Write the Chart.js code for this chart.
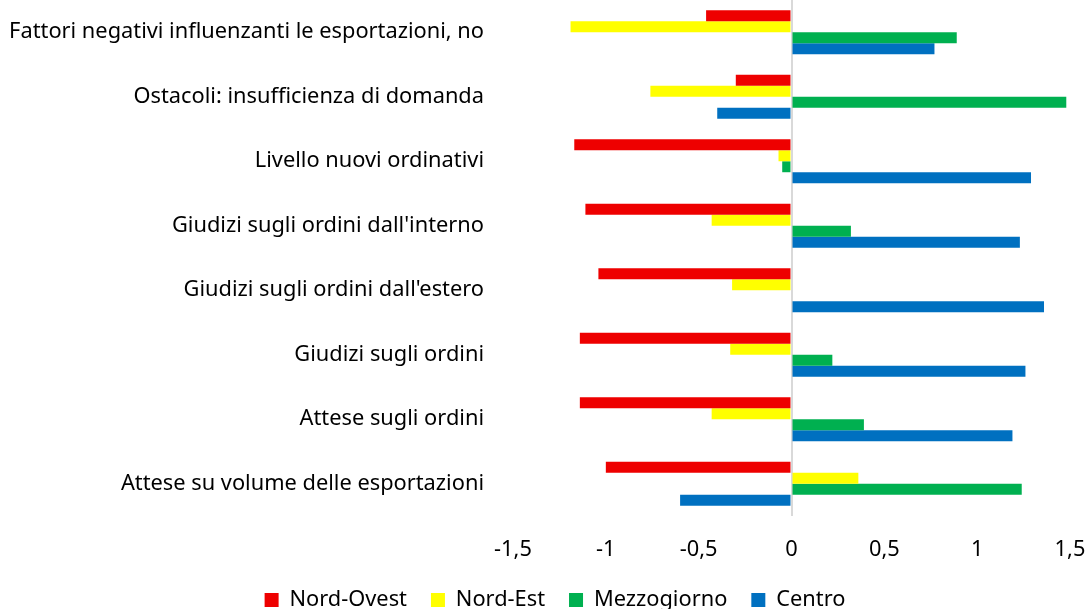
<!DOCTYPE html>
<html>
<head>
<meta charset="utf-8">
<script src="https://cdn.jsdelivr.net/npm/chart.js@4"></script>
<style>
  html, body { margin: 0; padding: 0; background: #fff; }
  #wrap { width: 1089px; height: 609px; }
</style>
</head>
<body>
<div id="wrap"><canvas id="chart"></canvas></div>
<script>
const categories = [
  "Fattori negativi influenzanti le esportazioni, no",
  "Ostacoli: insufficienza di domanda",
  "Livello nuovi ordinativi",
  "Giudizi sugli ordini dall'interno",
  "Giudizi sugli ordini dall'estero",
  "Giudizi sugli ordini",
  "Attese sugli ordini",
  "Attese su volume delle esportazioni",
];

const nordOvest = [-0.46, -0.30, -1.17, -1.11, -1.04, -1.14, -1.14, -1.00];
const nordEst = [-1.19, -0.76, -0.07, -0.43, -0.32, -0.33, -0.43, 0.36];
const mezzogiorno = [0.89, 1.48, -0.05, 0.32, 0, 0.22, 0.39, 1.24];
const centro = [0.77, -0.40, 1.29, 1.23, 1.36, 1.26, 1.19, -0.60];

const xTicks = [-1.5, -1, -0.5, 0, 0.5, 1, 1.5];

const fontFamily = "'Noto Sans', sans-serif";
const fontSize = 21.8;

// move the legend up and a little right, it sits partly below the picture edge
const legendShift = {
  id: "legendShift",
  afterLayout(chart) {
    chart.legend.top -= 19;
    chart.legend.bottom -= 19;
    chart.legend.left += 16;
    chart.legend.right += 16;
  },
};

var ctx = document.getElementById("chart").getContext("2d");

new Chart(ctx, {
  type: "bar",
  data: {
    labels: categories,
    datasets: [
      { label: "Nord-Ovest", data: nordOvest, backgroundColor: "#EE0000" },
      { label: "Nord-Est", data: nordEst, backgroundColor: "#FFFF00" },
      { label: "Mezzogiorno", data: mezzogiorno, backgroundColor: "#00B050" },
      { label: "Centro", data: centro, backgroundColor: "#0070C0" },
    ],
  },
  plugins: [legendShift],
  options: {
    indexAxis: "y",
    responsive: true,
    maintainAspectRatio: false,
    animation: false,
    categoryPercentage: 0.68,
    barPercentage: 1,
    layout: { padding: { left: 8, right: 19, top: -2, bottom: -31 } },
    scales: {
      x: {
        min: xTicks[0],
        max: xTicks[xTicks.length - 1],
        afterBuildTicks: (axis) => {
          axis.ticks = xTicks.map((v) => ({ value: v }));
        },
        afterFit: (axis) => {
          axis.paddingLeft = 0;
          axis.paddingRight = 0;
        },
        border: { display: false },
        grid: {
          drawTicks: false,
          lineWidth: 2,
          color: (c) => (c.tick && c.tick.value === 0 ? "#d9d9d9" : "rgba(0,0,0,0)"),
        },
        ticks: {
          color: "#000",
          padding: 21,
          font: { family: fontFamily, size: fontSize },
          callback: (v) => String(v).replace(".", ","),
        },
      },
      y: {
        border: { display: false },
        grid: { display: false, drawTicks: false },
        afterFit: (axis) => {
          // the bars are offset, no need to reserve room for half a label
          axis.paddingTop = 0;
          axis.paddingBottom = 0;
          axis.width = 505;
        },
        ticks: {
          color: "#000",
          padding: 29,
          font: { family: fontFamily, size: fontSize },
        },
      },
    },
    plugins: {
      legend: {
        position: "bottom",
        labels: {
          color: "#000",
          boxWidth: 14,
          boxHeight: 14,
          padding: 24,
          font: { family: fontFamily, size: fontSize },
        },
      },
      tooltip: { enabled: false },
    },
  },
});
</script>
</body>
</html>
